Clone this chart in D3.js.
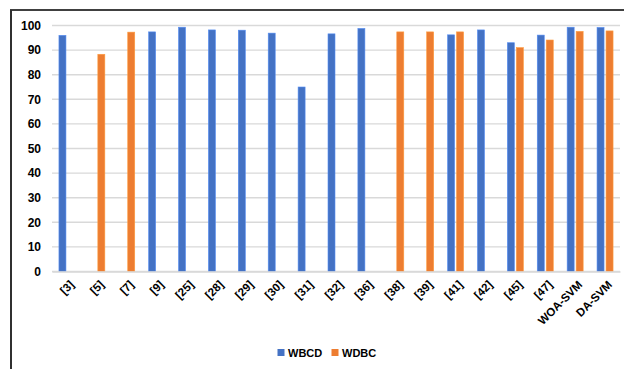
<!DOCTYPE html>
<html>
<head>
<meta charset="utf-8">
<script src="https://cdn.jsdelivr.net/npm/d3@7"></script>
<style>
  html, body { margin: 0; padding: 0; background: #fff; }
  svg { display: block; }
  text { font-family: "Liberation Sans", Arial, sans-serif; font-weight: bold; fill: #000; }
</style>
</head>
<body>
<svg id="chart" width="624" height="369"></svg>
<script>
const categories = ["[3]", "[5]", "[7]", "[9]", "[25]", "[28]", "[29]", "[30]", "[31]", "[32]", "[36]", "[38]", "[39]", "[41]", "[42]", "[45]", "[47]", "WOA-SVM", "DA-SVM"];
const seriesNames = ["WBCD", "WDBC"];
const wbcd = [96.0, null, null, 97.4, 99.3, 98.2, 98.1, 96.9, 75.0, 96.6, 98.8, null, null, 96.2, 98.2, 93.0, 96.1, 99.3, 99.2];
const wdbc = [null, 88.3, 97.3, null, null, null, null, null, null, null, null, 97.4, 97.4, 97.4, null, 91.0, 94.1, 97.6, 97.8];
const yTicks = [0, 10, 20, 30, 40, 50, 60, 70, 80, 90, 100];
const colors = ["#4472C4", "#ED7D31"];

const svg = d3.select("#chart");
const values = [wbcd, wdbc];

// frame
svg.append("line").attr("x1", 10).attr("x2", 624).attr("y1", 10).attr("y2", 10)
  .attr("stroke", "#404040").attr("stroke-width", 2);
svg.append("line").attr("x1", 11).attr("x2", 11).attr("y1", 10).attr("y2", 369)
  .attr("stroke", "#303030").attr("stroke-width", 2);

const x = d3.scaleBand().domain(categories).range([52, 620]).padding(0);
const bw = x.bandwidth();
const xs = d3.scaleBand().domain(seriesNames).range([bw / 2 - 8, bw / 2 + 8]).paddingInner(2 / 9).paddingOuter(0);
const y = d3.scaleLinear().domain([0, 100]).range([271.5, 25.5]);

// gridlines
svg.append("g").selectAll("line").data(yTicks).join("line")
  .attr("x1", 52).attr("x2", 620)
  .attr("y1", d => y(d)).attr("y2", d => y(d))
  .attr("stroke", "#d9d9d9").attr("stroke-width", 1.4);

// y axis labels
const yAxis = d3.axisLeft(y).tickValues(yTicks).tickSize(0).tickPadding(0);
const gy = svg.append("g").attr("transform", "translate(41,0)").call(yAxis);
gy.select(".domain").remove();
gy.selectAll("text").attr("font-size", 12).attr("font-family", "Liberation Sans, Arial, sans-serif")
  .attr("font-weight", "bold").attr("fill", "#000");

// bars
seriesNames.forEach((s, si) => {
  svg.append("g").selectAll("rect")
    .data(categories.map((c, i) => ({ c, v: values[si][i] })).filter(d => d.v != null))
    .join("rect")
    .attr("x", d => x(d.c) + xs(s))
    .attr("width", xs.bandwidth())
    .attr("y", d => y(d.v))
    .attr("height", d => y(0) - y(d.v))
    .attr("fill", colors[si])
    .attr("stroke", d3.color(colors[si]).brighter(0.6))
    .attr("stroke-width", 0.6);
});

// x axis line
const xAxis = d3.axisBottom(x).tickSize(0).tickFormat("");
const gx = svg.append("g").attr("transform", `translate(0,${y(0)})`).call(xAxis);
gx.select(".domain").attr("stroke", "#d9d9d9").attr("stroke-width", 1.4);

// rotated category labels
svg.append("g").selectAll("g").data(categories).join("g")
  .style("transform", d => `translate(${x(d) + bw / 2 + 5}px,${y(0) + 11}px) rotate(-45deg)`)
  .append("text")
  .attr("text-anchor", "end")
  .attr("dy", "0.35em")
  .attr("font-size", 11.5)
  .text(d => d);

// legend
const legend = svg.append("g");
const legendX = [277.5, 331.5];
seriesNames.forEach((s, i) => {
  legend.append("rect").attr("x", legendX[i]).attr("y", 349).attr("width", 7).attr("height", 7)
    .attr("fill", colors[i]);
  legend.append("text").attr("x", legendX[i] + 10.5).attr("y", 356.5)
    .attr("font-size", 11).text(s);
});
</script>
</body>
</html>
